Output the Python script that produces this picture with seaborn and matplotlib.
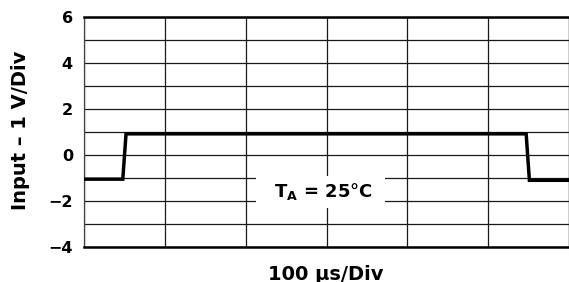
import numpy as np
import pandas as pd
import matplotlib
matplotlib.use('Agg')
import matplotlib.pyplot as plt
import matplotlib.ticker as tkr
import seaborn as sns

sns.set_style('white')
plt.rcParams['font.family'] = ['DejaVu Sans']
plt.rcParams['mathtext.fontset'] = 'dejavusans'
plt.rcParams['text.color'] = 'black'
plt.rcParams['ytick.color'] = 'black'
plt.rcParams['xtick.color'] = 'black'

# trace (x in divisions, y in volts)
time_div = [0, 0.48, 0.52, 5.47, 5.51, 6]
volts = [-1.05, -1.05, 0.92, 0.92, -1.1, -1.1]
y_ticks = [-4, -2, 0, 2, 4, 6]
y_tick_labels = ['\u22124', '\u22122', '0', '2', '4', '6']

df = pd.DataFrame({'t': time_div, 'v': volts})

fig = plt.figure(figsize=(5.69, 2.82), dpi=100)
ax = fig.add_axes([84 / 569, 35 / 282, 485 / 569, 230 / 282])

sns.lineplot(data=df, x='t', y='v', ax=ax, color='black', linewidth=2.5,
             zorder=5, solid_joinstyle='miter')

ax.set_xlim(0, 6)
ax.set_ylim(-4, 6)
ax.xaxis.set_major_locator(tkr.MultipleLocator(1))
ax.yaxis.set_major_locator(tkr.FixedLocator(y_ticks))
ax.yaxis.set_minor_locator(tkr.MultipleLocator(1))
ax.set_yticklabels(y_tick_labels)
ax.set_xticklabels([])
ax.grid(True, which='both', color='#1a1a1a', linewidth=0.9)
ax.tick_params(axis='both', which='both', length=0)
ax.tick_params(axis='y', pad=8, labelsize=11.5, labelcolor='black')
for lab in ax.get_yticklabels():
    lab.set_fontweight('bold')
ax.set_xlabel('')
ax.set_ylabel('')

for s in ['top', 'bottom']:
    ax.spines[s].set_linewidth(1.8)
    ax.spines[s].set_color('black')
for s in ['left', 'right']:
    ax.spines[s].set_linewidth(0.9)
    ax.spines[s].set_color('#444444')

ax.text(2.93, -1.6, '  $\\mathbf{T_A}$ = 25\u00b0C  ', ha='center', va='center',
        fontsize=13, fontweight='bold', color='black', zorder=6,
        bbox=dict(facecolor='white', edgecolor='none', boxstyle='square,pad=0.3'))

fig.text(21 / 569, 152 / 282, 'Input \u2013 1 V/Div', rotation=90, ha='center',
         va='center', fontsize=14, fontweight='bold', color='black')
fig.text(326 / 569, 8 / 282, '100 \u00b5s/Div', ha='center', va='center',
         fontsize=14, fontweight='bold', color='black')

fig.savefig('out.png', dpi=100)
